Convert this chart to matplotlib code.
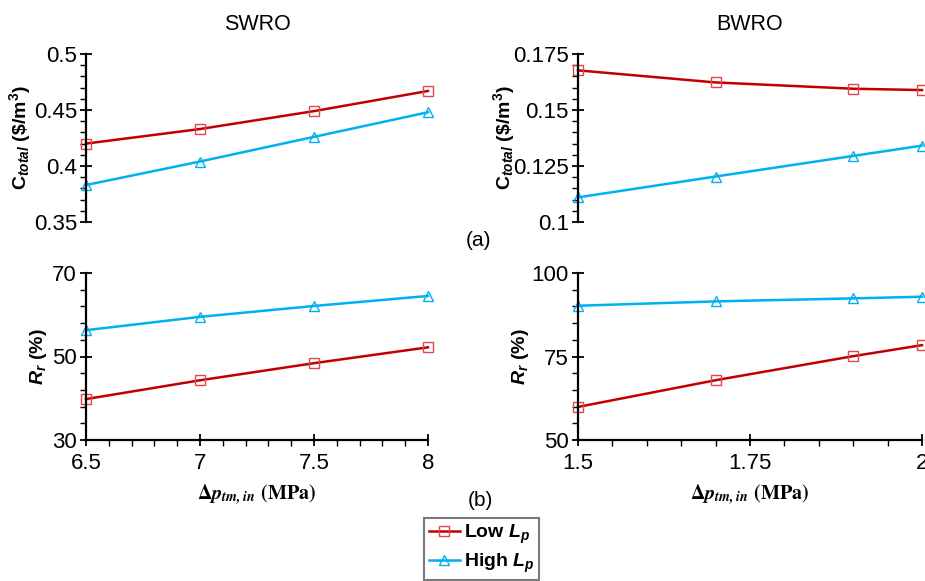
import matplotlib
matplotlib.use("Agg")
import matplotlib.pyplot as plt
import numpy as np
from matplotlib.ticker import MultipleLocator, FixedLocator

plt.rcParams['font.family'] = 'Liberation Sans'
plt.rcParams['mathtext.fontset'] = 'custom'
plt.rcParams['mathtext.rm'] = 'Liberation Sans'
plt.rcParams['mathtext.it'] = 'Liberation Sans:italic'
plt.rcParams['mathtext.bf'] = 'Liberation Sans:bold'
plt.rcParams['mathtext.bfit'] = 'Liberation Sans:italic:bold'

# data
sw_dp = [6.5, 7.0, 7.5, 8.0]
bw_dp = [1.5, 1.7, 1.9, 2.0]
sw_cost_low = [0.420, 0.433, 0.449, 0.467]
sw_cost_high = [0.383, 0.404, 0.426, 0.448]
bw_cost_low = [0.1677, 0.1623, 0.1595, 0.1589]
bw_cost_high = [0.1110, 0.1203, 0.1295, 0.1341]
sw_rec_low = [39.8, 44.3, 48.4, 52.2]
sw_rec_high = [56.3, 59.5, 62.1, 64.5]
bw_rec_low = [59.9, 67.9, 75.1, 78.4]
bw_rec_high = [90.2, 91.5, 92.4, 92.9]

red = '#C00000'
red_mk = '#E0474C'
blue = '#00B0F0'
TICK_FS = 16

W, H = 925, 581
fig = plt.figure(figsize=(W / 100, H / 100), dpi=100)


def px_axes(x0, x1, y0, y1):
    return fig.add_axes([x0 / W, 1 - y1 / H, (x1 - x0) / W, (y1 - y0) / H])


def style(ax, show_x):
    for s in ['top', 'right']:
        ax.spines[s].set_visible(False)
    ax.spines['left'].set_linewidth(1.6)
    ax.spines['bottom'].set_linewidth(1.6)
    ax.tick_params(which='major', direction='inout', length=9, width=1.3,
                   labelsize=TICK_FS, pad=2)
    ax.tick_params(which='minor', direction='out', length=4, width=1.0)
    if not show_x:
        ax.spines['bottom'].set_visible(False)
        ax.tick_params(axis='x', which='both', bottom=False, labelbottom=False)
    ax.patch.set_alpha(0)
    fmt = plt.FuncFormatter(lambda v, p: f'{v:g}')
    ax.xaxis.set_major_formatter(fmt)
    ax.yaxis.set_major_formatter(fmt)


def draw(ax, x, low, high):
    ax.plot(x, low, color=red, lw=1.8, marker='s', ms=7.5, mfc='none',
            mec=red_mk, mew=1.0, clip_on=False, label=r'Low $\mathbfit{L}_{\mathbfit{p}}$')
    ax.plot(x, high, color=blue, lw=1.8, marker='^', ms=7.5, mfc='none',
            mec=blue, mew=1.0, clip_on=False, label=r'High $\mathbfit{L}_{\mathbfit{p}}$')


cost_label = r'$\mathbf{C}_{\mathbfit{total}}$ (\$/m$^{\mathbf{3}}$)'
rec_label = r'$\mathbfit{R}_{\mathbfit{r}}$ (%)'
x_label = r'$\mathbf{\Delta}\mathbfit{p}_{\mathbfit{tm,in}}$ $\mathbf{(MPa)}$'

# SWRO cost
ax1 = px_axes(86, 428, 54, 222)
draw(ax1, sw_dp, sw_cost_low, sw_cost_high)
ax1.set_xlim(6.5, 8)
ax1.set_ylim(0.35, 0.5)
ax1.yaxis.set_major_locator(MultipleLocator(0.05))
ax1.yaxis.set_minor_locator(MultipleLocator(0.01))
style(ax1, False)
ax1.set_ylabel(cost_label, fontsize=14, fontweight='bold', labelpad=0.5)
ax1.set_title('SWRO', fontsize=15.5, pad=17)

# BWRO cost
ax2 = px_axes(578, 922, 54, 222)
draw(ax2, bw_dp, bw_cost_low, bw_cost_high)
ax2.set_xlim(1.5, 2)
ax2.set_ylim(0.1, 0.175)
ax2.yaxis.set_major_locator(MultipleLocator(0.025))
ax2.yaxis.set_minor_locator(MultipleLocator(0.005))
style(ax2, False)
ax2.set_ylabel(cost_label, fontsize=14, fontweight='bold', labelpad=-2.5)
ax2.set_title('BWRO', fontsize=15.5, pad=17)

# SWRO recovery
ax3 = px_axes(86, 428, 273, 440)
draw(ax3, sw_dp, sw_rec_low, sw_rec_high)
ax3.set_xlim(6.5, 8)
ax3.set_ylim(30, 70)
ax3.xaxis.set_major_locator(MultipleLocator(0.5))
ax3.xaxis.set_minor_locator(MultipleLocator(0.1))
ax3.yaxis.set_major_locator(FixedLocator([30, 50, 70]))
ax3.yaxis.set_minor_locator(FixedLocator(np.arange(30, 71, 4)))
style(ax3, True)
ax3.tick_params(axis='x', pad=5)
ax3.set_ylabel(rec_label, fontsize=14, fontweight='bold', labelpad=2.5)
ax3.set_xlabel(x_label, fontsize=14.5, math_fontfamily='stix', labelpad=6)

# BWRO recovery
ax4 = px_axes(578, 922, 273, 440)
draw(ax4, bw_dp, bw_rec_low, bw_rec_high)
ax4.set_xlim(1.5, 2)
ax4.set_ylim(50, 100)
ax4.xaxis.set_major_locator(MultipleLocator(0.25))
ax4.xaxis.set_minor_locator(MultipleLocator(0.05))
ax4.yaxis.set_major_locator(MultipleLocator(25))
ax4.yaxis.set_minor_locator(MultipleLocator(5))
style(ax4, True)
ax4.tick_params(axis='x', pad=5)
ax4.set_ylabel(rec_label, fontsize=14, fontweight='bold', labelpad=0.5)
ax4.set_xlabel(x_label, fontsize=14.5, math_fontfamily='stix', labelpad=6)

fig.text(478 / W, 1 - 241 / H, '(a)', fontsize=15, ha='center', va='center')
fig.text(480 / W, 1 - 500 / H, '(b)', fontsize=15, ha='center', va='center')

handles, labels = ax4.get_legend_handles_labels()
leg = fig.legend(handles, labels, loc='lower left',
                 bbox_to_anchor=(424 / W, 1 / H),
                 prop={'weight': 'bold', 'size': 14}, frameon=True, fancybox=False,
                 handlelength=1.6, handletextpad=0.2, borderpad=0.25,
                 labelspacing=0.3, borderaxespad=0)
leg.get_frame().set_edgecolor('#595959')
leg.get_frame().set_linewidth(1.5)

fig.savefig('out.png', dpi=100)
